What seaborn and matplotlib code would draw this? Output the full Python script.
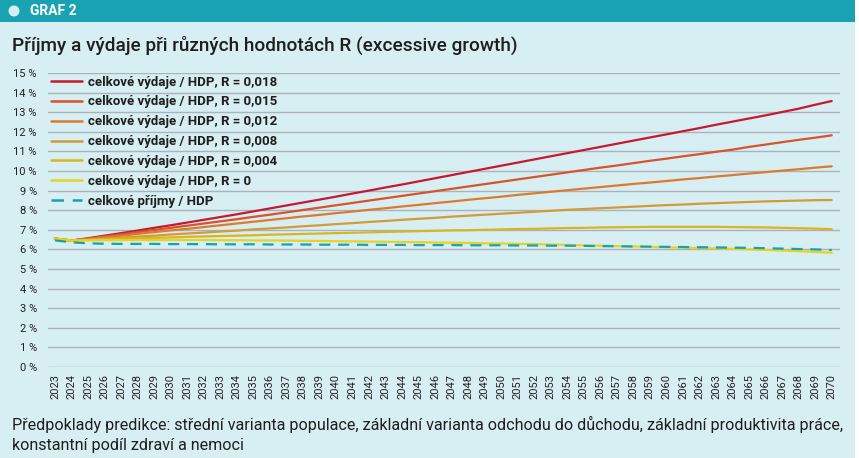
import matplotlib
matplotlib.use("Agg")
import matplotlib.pyplot as plt
import matplotlib.patches as mpatches
import seaborn as sns
import pandas as pd

years = list(range(2023, 2071))

r_018 = [6.55, 6.45, 6.57, 6.70, 6.83, 6.96, 7.10, 7.23, 7.37, 7.51, 7.65, 7.79,
         7.94, 8.09, 8.24, 8.39, 8.54, 8.69, 8.85, 9.00, 9.16, 9.31, 9.47, 9.63,
         9.79, 9.95, 10.11, 10.27, 10.43, 10.59, 10.75, 10.91, 11.07, 11.23, 11.39, 11.55,
         11.71, 11.87, 12.03, 12.19, 12.36, 12.52, 12.68, 12.84, 13.01, 13.18, 13.38, 13.57]
r_015 = [6.55, 6.45, 6.55, 6.66, 6.77, 6.88, 6.99, 7.10, 7.21, 7.32, 7.43, 7.54,
         7.66, 7.77, 7.89, 8.01, 8.13, 8.25, 8.37, 8.49, 8.61, 8.73, 8.85, 8.97,
         9.09, 9.21, 9.33, 9.45, 9.57, 9.69, 9.81, 9.93, 10.05, 10.17, 10.28, 10.40,
         10.52, 10.63, 10.75, 10.86, 10.98, 11.09, 11.23, 11.35, 11.47, 11.59, 11.70, 11.82]
r_012 = [6.55, 6.45, 6.53, 6.62, 6.70, 6.79, 6.88, 6.97, 7.05, 7.14, 7.23, 7.32,
         7.41, 7.50, 7.59, 7.68, 7.76, 7.85, 7.93, 8.02, 8.10, 8.19, 8.27, 8.36,
         8.44, 8.53, 8.61, 8.69, 8.78, 8.86, 8.94, 9.02, 9.10, 9.18, 9.26, 9.34,
         9.41, 9.49, 9.57, 9.64, 9.72, 9.79, 9.87, 9.94, 10.02, 10.09, 10.17, 10.24]
r_008 = [6.55, 6.45, 6.50, 6.55, 6.60, 6.65, 6.70, 6.76, 6.81, 6.86, 6.91, 6.96,
         7.02, 7.07, 7.12, 7.18, 7.23, 7.29, 7.34, 7.40, 7.45, 7.51, 7.56, 7.61,
         7.67, 7.72, 7.77, 7.82, 7.87, 7.92, 7.97, 8.02, 8.06, 8.10, 8.14, 8.18,
         8.22, 8.26, 8.29, 8.33, 8.36, 8.39, 8.42, 8.45, 8.47, 8.49, 8.51, 8.52]
r_004 = [6.55, 6.45, 6.48, 6.51, 6.54, 6.56, 6.59, 6.61, 6.64, 6.66, 6.68, 6.70,
         6.72, 6.75, 6.77, 6.79, 6.81, 6.83, 6.85, 6.87, 6.89, 6.91, 6.93, 6.95,
         6.97, 6.98, 7.00, 7.02, 7.04, 7.05, 7.07, 7.09, 7.10, 7.12, 7.13, 7.14,
         7.15, 7.15, 7.15, 7.15, 7.15, 7.14, 7.13, 7.12, 7.10, 7.08, 7.06, 7.03]
r_000 = [6.55, 6.45, 6.46, 6.47, 6.47, 6.48, 6.48, 6.48, 6.48, 6.48, 6.47, 6.47,
         6.46, 6.46, 6.45, 6.44, 6.43, 6.42, 6.41, 6.40, 6.39, 6.38, 6.37, 6.35,
         6.34, 6.33, 6.31, 6.30, 6.28, 6.27, 6.25, 6.23, 6.21, 6.19, 6.17, 6.15,
         6.13, 6.11, 6.09, 6.07, 6.05, 6.03, 6.00, 5.97, 5.94, 5.91, 5.87, 5.83]
revenue = [6.46, 6.36, 6.31, 6.29, 6.28, 6.28, 6.28, 6.27, 6.27, 6.27, 6.26, 6.26,
           6.26, 6.25, 6.25, 6.25, 6.24, 6.24, 6.24, 6.23, 6.23, 6.23, 6.22, 6.22,
           6.22, 6.21, 6.21, 6.21, 6.20, 6.20, 6.19, 6.19, 6.18, 6.17, 6.16, 6.15,
           6.14, 6.13, 6.12, 6.11, 6.10, 6.09, 6.08, 6.06, 6.04, 6.02, 6.00, 5.97]

labels = ["celkové výdaje / HDP, R = 0,018",
          "celkové výdaje / HDP, R = 0,015",
          "celkové výdaje / HDP, R = 0,012",
          "celkové výdaje / HDP, R = 0,008",
          "celkové výdaje / HDP, R = 0,004",
          "celkové výdaje / HDP, R = 0",
          "celkové příjmy / HDP"]
series = [r_018, r_015, r_012, r_008, r_004, r_000, revenue]
colors = ["#c8172f", "#d8522a", "#dc7a2e", "#d49a35", "#d9b522", "#e8d420", "#17a2ad"]
yticks = list(range(0, 16))
ytick_labels = [f"{v} %" for v in yticks]

title = "Příjmy a výdaje při různých hodnotách R (excessive growth)"
header = "GRAF 2"
footnote = ("Předpoklady predikce: střední varianta populace, základní varianta odchodu do důchodu, "
            "základní produktivita práce,\nkonstantní podíl zdraví a nemoci")

df = pd.concat([pd.DataFrame({"rok": years, "hodnota": s, "serie": lab})
                for s, lab in zip(series, labels)], ignore_index=True)

sns.set_theme(style="white")
plt.rcParams["font.family"] = ["Roboto", "DejaVu Sans"]

bg = "#d7eef3"
W, H = 859, 458
fig = plt.figure(figsize=(8.59, 4.58), dpi=100, facecolor=bg)
ax = fig.add_axes([48/W, 1 - 367/H, (840 - 48)/W, (367 - 73)/H])
ax.set_facecolor(bg)

for y in yticks:
    ax.axhline(y, color="#aab4b8", lw=1.0, zorder=0)

sns.lineplot(data=df, x="rok", y="hodnota", hue="serie", style="serie",
             hue_order=labels, style_order=labels,
             palette=dict(zip(labels, colors)),
             dashes={lab: ((5, 3.5) if lab == labels[-1] else "") for lab in labels},
             linewidth=1.6, ax=ax, legend=True)

ax.set_xlim(2022.58, 2070.5)
ax.set_ylim(0, 15)
ax.set_yticks(yticks)
ax.set_yticklabels(ytick_labels)
ax.set_xticks(years)
ax.set_xticklabels([str(y) for y in years], rotation=90)
ax.tick_params(axis="y", labelsize=8, colors="#222222", length=0, pad=8)
ax.tick_params(axis="x", labelsize=8, colors="#222222", length=0, pad=5)
ax.set_xlabel("")
ax.set_ylabel("")
for sp in ax.spines.values():
    sp.set_visible(False)

leg = ax.legend(loc="upper left", bbox_to_anchor=(0.0, 1.0), frameon=False,
                prop={"size": 9.5, "weight": "bold"}, labelspacing=0.52,
                handlelength=2.4, handletextpad=0.45, borderaxespad=0.0,
                borderpad=0.2)
for t in leg.get_texts():
    t.set_color("#1e1e1e")
for h in leg.get_lines():
    h.set_linewidth(1.8)

# header band
fig.patches.append(mpatches.Rectangle((0, 1 - 22/H), 1, 22/H, transform=fig.transFigure,
                                      facecolor="#19a3b2", edgecolor="none", zorder=0))
fig.patches.append(mpatches.Ellipse((14/W, 1 - 11/H), 11/W, 11/H, transform=fig.transFigure,
                                    facecolor="#d7eef3", edgecolor="none"))
fig.text(30/W, 1 - 11/H, header, color="white", fontsize=10, fontweight="bold",
         va="center", ha="left")
fig.text(12/W, 1 - 45/H, title, color="#1e1e1e", fontsize=13.7, fontweight="medium",
         va="center", ha="left")
fig.text(12/W, 1 - 416/H, footnote, color="#1e1e1e", fontsize=11.6,
         va="top", ha="left", linespacing=1.38)
fig.patches.append(mpatches.Rectangle((1 - 4/W, 0), 4/W, 1, transform=fig.transFigure,
                                      facecolor="white", edgecolor="none"))

fig.savefig("out.png", dpi=100, facecolor=bg)
